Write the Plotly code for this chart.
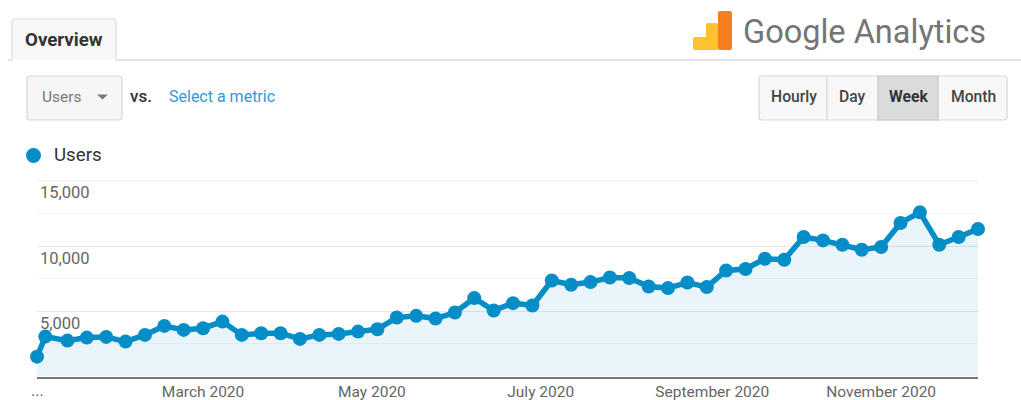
import plotly.graph_objects as go
import pandas as pd

W, H = 1021, 400
week_dates = ["2020-01-01", "2020-01-04"] + [str(d.date()) for d in pd.date_range("2020-01-12", periods=48, freq="7D")]
users = [1523, 3060, 2753, 2984, 3038, 2676, 3190, 3883, 3576, 3707, 4214, 3190, 3322, 3322, 2884, 3190, 3268,
         3445, 3630, 4522, 4652, 4445, 4906, 6014, 5060, 5629, 5445, 7367, 7036, 7244, 7598, 7552, 6906, 6783,
         7213, 6860, 8136, 8244, 9036, 8960, 10705, 10443, 10113, 9728, 9936, 11781, 12596, 10113, 10705, 11320]
x_tick_dates = ["2020-03-01", "2020-05-01", "2020-07-01", "2020-09-01", "2020-11-01"]
x_tick_text = ["March 2020", "May 2020", "July 2020", "September 2020", "November 2020"]
y_ticks = [5000, 10000, 15000]
y_tick_text = ["5,000", "10,000", "15,000"]
FONT = "Roboto, Arial, sans-serif"
BLUE = "#058dc7"


def px(x):
    return x / W


def py(y):
    return 1 - y / H


def rect(x0, y0, x1, y1, fill, line="rgba(0,0,0,0)", width=1, r=0):
    if r:
        path = (f"M {px(x0+r)} {py(y0)} L {px(x1-r)} {py(y0)} Q {px(x1)} {py(y0)} {px(x1)} {py(y0+r)} "
                f"L {px(x1)} {py(y1-r)} Q {px(x1)} {py(y1)} {px(x1-r)} {py(y1)} L {px(x0+r)} {py(y1)} "
                f"Q {px(x0)} {py(y1)} {px(x0)} {py(y1-r)} L {px(x0)} {py(y0+r)} Q {px(x0)} {py(y0)} {px(x0+r)} {py(y0)} Z")
        return dict(type="path", xref="paper", yref="paper", path=path, fillcolor=fill,
                    line=dict(color=line, width=width), layer="below")
    return dict(type="rect", xref="paper", yref="paper", x0=px(x0), x1=px(x1), y0=py(y0), y1=py(y1),
                fillcolor=fill, line=dict(color=line, width=width), layer="below")


def hline(x0, x1, y, color, width=1):
    return dict(type="line", xref="paper", yref="paper", x0=px(x0), x1=px(x1), y0=py(y), y1=py(y),
                line=dict(color=color, width=width), layer="below")


def vline(x, y0, y1, color, width=1):
    return dict(type="line", xref="paper", yref="paper", x0=px(x), x1=px(x), y0=py(y0), y1=py(y1),
                line=dict(color=color, width=width), layer="below")


def text(x, y, s, size, color, anchor="center", weight=400):
    return dict(xref="paper", yref="paper", x=px(x), y=py(y), text=s, showarrow=False, xanchor=anchor,
                yanchor="middle", font=dict(family=FONT, size=size, color=color, weight=weight))


shapes = [
    dict(type="path", xref="paper", yref="paper",
         path=f"M {px(12)} {py(60)} L {px(12)} {py(22)} Q {px(12)} {py(19)} {px(15)} {py(19)} L {px(113)} {py(19)} "
              f"Q {px(116)} {py(19)} {px(116)} {py(22)} L {px(116)} {py(60)}",
         fillcolor="#f8f8f8", line=dict(color="#dddddd", width=1.2), layer="below"),
    hline(116, 1021, 60, "#d9d9d9", 1.5),
    hline(8, 12, 60, "#d9d9d9", 1.5),
    rect(27, 76, 122, 120, "#f6f6f6", "#d8d8d8", 1.2, 3),
    dict(type="path", xref="paper", yref="paper",
         path=f"M {px(97)} {py(94.5)} L {px(108)} {py(94.5)} L {px(102.5)} {py(99.5)} Z",
         fillcolor="#777777", line=dict(width=0), layer="below"),
    rect(759, 76, 1007, 120, "#f8f8f8", "#d8d8d8", 1.2, 3),
    rect(878, 76, 938, 120, "#dcdcdc", "#c8c8c8", 1.2),
    vline(827, 76, 120, "#d8d8d8", 1.2),
    dict(type="circle", xref="paper", yref="paper", x0=px(26), x1=px(41), y0=py(148), y1=py(163),
         fillcolor=BLUE, line=dict(width=0), layer="below"),
    hline(37, 978, 181, "#ececec", 1),
    rect(693, 37, 718, 50, "#fec130", r=2),
    rect(706, 23, 718, 50, "#fec130", r=2),
    rect(718, 11, 732, 50, "#f57e20", r=2),
]

annotations = [
    text(64, 40, "Overview", 18.7, "#333333", weight=700),
    text(62, 97, "Users", 15.5, "#777777"),
    text(140.5, 96, "vs.", 17, "#333333", weight=500),
    text(222, 97, "Select a metric", 16, "#2d9ad6"),
    text(793.5, 97, "Hourly", 15.7, "#444444", weight=500),
    text(852.5, 97, "Day", 15.7, "#444444", weight=500),
    text(908, 97, "Week", 15.7, "#333333", weight=700),
    text(973, 97, "Month", 15.7, "#444444", weight=500),
    text(51.5, 155, "Users", 18.7, "#333333", "left"),
    text(864.5, 32, "Google Analytics", 32.5, "#757575"),
    text(37, 390, "...", 16, "#666666"),
]

fig = go.Figure(go.Scatter(
    x=week_dates, y=users, mode="lines+markers", cliponaxis=False,
    line=dict(color=BLUE, width=5.5), marker=dict(color=BLUE, size=14),
    fill="tozeroy", fillcolor="rgba(5,141,199,0.085)", hoverinfo="x+y", showlegend=False,
))
fig.update_layout(
    width=W, height=H, margin=dict(l=0, r=0, t=0, b=0, autoexpand=False), paper_bgcolor="white", plot_bgcolor="white",
    shapes=shapes, annotations=annotations, font=dict(family=FONT), showlegend=False,
    xaxis=dict(domain=[px(37), px(978)], type="date", range=["2020-01-01", "2020-12-06"],
               tickmode="array", tickvals=x_tick_dates, ticktext=x_tick_text, ticks="", showgrid=False,
               tickfont=dict(family=FONT, size=15.5, color="#666666"), showline=True, linecolor="#777777",
               linewidth=2, zeroline=False, automargin=False),
    yaxis=dict(domain=[py(376.5), py(181)], range=[0, 15000], tickmode="array", tickvals=y_ticks,
               ticktext=y_tick_text, ticklabelposition="inside bottom", ticklabelshift=0, ticks="", showline=False,
               zeroline=False, automargin=False,
               gridcolor="#e6e6e6", gridwidth=1, tickfont=dict(family=FONT, size=16.5, color="#666666"),
               minor=dict(tickmode="array", tickvals=[2500, 7500, 12500], showgrid=True, gridcolor="#f5f5f5",
                          gridwidth=1)),
)
fig.write_html("out.html", config={"displayModeBar": False}, post_script="document.body.style.margin='0';")
